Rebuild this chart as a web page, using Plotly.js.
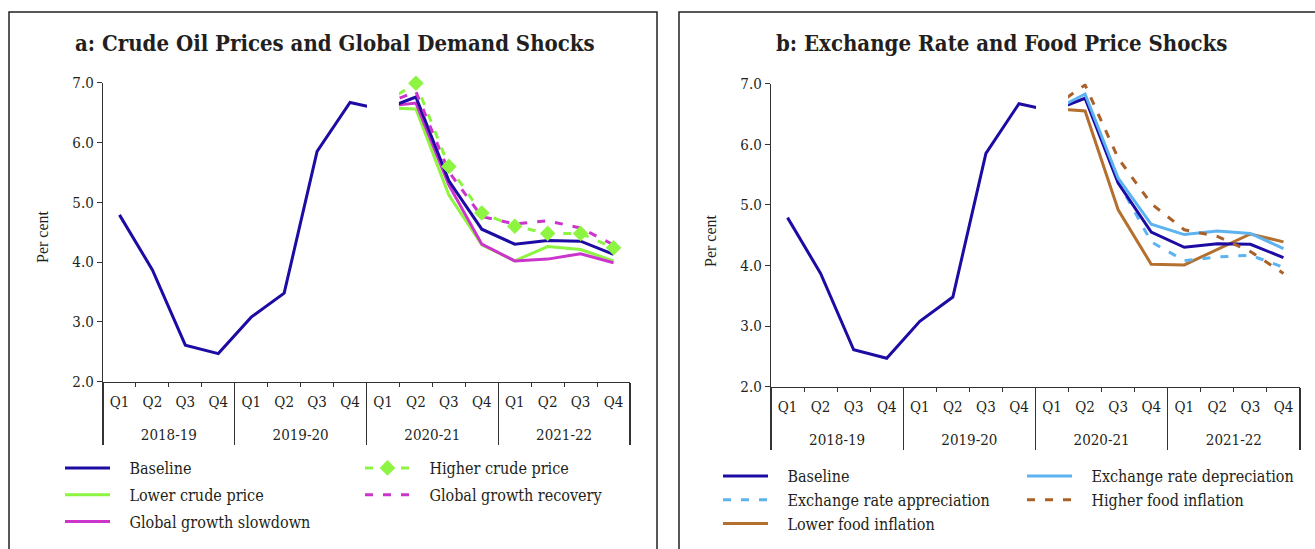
<!DOCTYPE html>
<html>
<head>
<meta charset="utf-8">
<script src="https://cdn.plot.ly/plotly-3.0.1.min.js"></script>
<style>
html,body{margin:0;padding:0;background:#fff;}
#chart{width:1315px;height:549px;}
</style>
</head>
<body>
<div id="chart"></div>
<script>
// ---- Data ----
var years = ['2018-19','2018-19','2018-19','2018-19','2019-20','2019-20','2019-20','2019-20',
             '2020-21','2020-21','2020-21','2020-21','2021-22','2021-22','2021-22','2021-22'];
var quarters = ['Q1','Q2','Q3','Q4','Q1','Q2','Q3','Q4','Q1','Q2','Q3','Q4','Q1','Q2','Q3','Q4'];

var baseline = [4.79, 3.87, 2.61, 2.47, 3.08, 3.48, 5.85, 6.67, 6.55, 6.76, 5.36, 4.55, 4.30, 4.36, 4.35, 4.13];

// projection scenarios, Q1 2020-21 to Q4 2021-22
var higherCrude    = [6.65, 6.99, 5.60, 4.82, 4.60, 4.48, 4.48, 4.24];
var lowerCrude     = [6.58, 6.56, 5.12, 4.29, 4.02, 4.26, 4.21, 4.02];
var growthSlowdown = [6.60, 6.66, 5.29, 4.30, 4.02, 4.05, 4.14, 3.99];
var growthRecovery = [6.63, 6.85, 5.51, 4.76, 4.64, 4.69, 4.57, 4.29];

var exDepreciation = [6.55, 6.83, 5.44, 4.68, 4.51, 4.57, 4.53, 4.28];
var exAppreciation = [6.54, 6.78, 5.38, 4.39, 4.08, 4.14, 4.17, 3.97];
var higherFood     = [6.60, 6.98, 5.77, 5.02, 4.59, 4.48, 4.23, 3.87];
var lowerFood      = [6.59, 6.55, 4.92, 4.02, 4.01, 4.27, 4.52, 4.39];

var titleA = 'a: Crude Oil Prices and Global Demand Shocks';
var titleB = 'b: Exchange Rate and Food Price Shocks';

// ---- Build ----
var W = 1315, H = 549;
// inner labels get an empty second line so the year row sits lower, as in the original
var quarterLabels = quarters.map(function (q) { return q + '<br> '; });
var xCats = [years, quarterLabels];
var histPad = years.slice(0, 8).map(function () { return null; });
function proj(arr) { return histPad.concat(arr); }

var C = {
  base: '#1d0ca3', green: '#8df542', pink: '#cc35cc',
  lblue: '#5cb3f0', brown: '#b4702f', dbrown: '#aa6129'
};
var dashPat = '8px,10px';
var LPAD = '\u2002\u2002';

function tr(name, y, xa, ya, color, dash, legend, rank, markers) {
  var t = {
    type: 'scatter', mode: markers ? 'lines+markers' : 'lines', name: LPAD + name,
    x: xCats, y: y, xaxis: xa, yaxis: ya, connectgaps: false,
    line: {color: color, width: 3, dash: dash || 'solid'},
    legend: legend, legendrank: rank, legendgroup: name + xa,
    hoverinfo: 'skip'
  };
  if (markers) {
    t.marker = {symbol: 'diamond', size: 12, color: color};
    t.cliponaxis = false;
  }
  return t;
}

var data = [
  // panel a
  tr('Lower crude price', proj(lowerCrude), 'x', 'y', C.green, 'solid', 'legend', 2),
  tr('Global growth slowdown', proj(growthSlowdown), 'x', 'y', C.pink, 'solid', 'legend', 3),
  tr('Baseline', baseline, 'x', 'y', C.base, 'solid', 'legend', 1),
  tr('Global growth recovery', proj(growthRecovery), 'x', 'y', C.pink, dashPat, 'legend2', 2),
  tr('Higher crude price', proj(higherCrude), 'x', 'y', C.green, dashPat, 'legend2', 1, true),
  // panel b
  tr('Lower food inflation', proj(lowerFood), 'x2', 'y2', C.brown, 'solid', 'legend3', 3),
  tr('Exchange rate appreciation', proj(exAppreciation), 'x2', 'y2', C.lblue, dashPat, 'legend3', 2),
  tr('Baseline', baseline, 'x2', 'y2', C.base, 'solid', 'legend3', 1),
  tr('Exchange rate depreciation', proj(exDepreciation), 'x2', 'y2', C.lblue, 'solid', 'legend4', 1),
  tr('Higher food inflation', proj(higherFood), 'x2', 'y2', C.dbrown, dashPat, 'legend4', 2)
];

var FAM = 'DejaVu Serif Condensed, DejaVu Serif, Liberation Serif, serif';
var txtFont = {family: FAM, size: 16, color: '#231f20'};
var tickFont = {family: FAM, size: 15, color: '#231f20'};

function xax(d0, d1, anchor) {
  return {
    type: 'multicategory', domain: [d0 / W, d1 / W], anchor: anchor,
    autorange: false, range: [-0.5, quarters.length - 0.5],
    showline: true, linecolor: '#333', linewidth: 1.2, mirror: false,
    ticks: 'outside', ticklen: 4, tickcolor: '#333', tickwidth: 1,
    showdividers: true, dividercolor: '#333', dividerwidth: 1.2,
    tickfont: tickFont, showgrid: false, zeroline: false, fixedrange: true,
    automargin: false, ticklabelstandoff: 6
  };
}
function yax(top, bottom, anchor) {
  return {
    domain: [1 - bottom / H, 1 - top / H], anchor: anchor, range: [2, 7],
    tick0: 2, dtick: 1, tickformat: '.1f',
    showline: true, linecolor: '#333', linewidth: 1.2,
    ticks: 'outside', ticklen: 5, tickcolor: '#333',
    tickfont: tickFont, showgrid: false, zeroline: false, fixedrange: true,
    automargin: false
  };
}

function legendAt(px, py, gap) {
  return {
    x: px / W, y: 1 - py / H, xanchor: 'left', yanchor: 'top',
    orientation: 'v', bgcolor: 'rgba(0,0,0,0)', borderwidth: 0,
    font: txtFont, itemwidth: 45, traceorder: 'grouped', tracegroupgap: gap,
    itemclick: false, itemdoubleclick: false
  };
}

var xaA = [103, 630], xaB = [771, 1300];
function slotShape(xr, yref) {
  var w = (xr[1] - xr[0]) / 16;
  return {
    type: 'rect', layer: 'above', xref: 'paper', yref: yref,
    x0: (xr[0] + 8 * w + 0.5) / W, x1: (xr[0] + 9 * w - 0.5) / W,
    y0: 6.0, y1: 7.0, fillcolor: '#ffffff', line: {width: 0}
  };
}

var layout = {
  width: W, height: H, margin: {l: 0, r: 0, t: 0, b: 0},
  paper_bgcolor: '#ffffff', plot_bgcolor: 'rgba(0,0,0,0)',
  font: txtFont, showlegend: true, hovermode: false,
  xaxis: xax(xaA[0], xaA[1], 'y'),
  yaxis: yax(82.7, 381.7, 'x'),
  xaxis2: xax(xaB[0], xaB[1], 'y2'),
  yaxis2: yax(83.7, 386.7, 'x2'),
  legend: legendAt(60, 451, 3),
  legend2: legendAt(360, 451, 3),
  legend3: legendAt(718, 459, 0),
  legend4: legendAt(1022, 459, 0),
  shapes: [
    slotShape(xaA, 'y'), slotShape(xaB, 'y2'),
    {type: 'rect', xref: 'paper', yref: 'paper', x0: 9 / W, x1: 657 / W, y0: 1 - 12 / H, y1: -0.1,
     line: {color: '#222', width: 1.5}, fillcolor: 'rgba(0,0,0,0)', layer: 'below'},
    {type: 'rect', xref: 'paper', yref: 'paper', x0: 679 / W, x1: 1.1, y0: 1 - 12 / H, y1: -0.1,
     line: {color: '#222', width: 1.5}, fillcolor: 'rgba(0,0,0,0)', layer: 'below'}
  ],
  annotations: [
    {text: '<b>' + titleA + '</b>', xref: 'paper', yref: 'paper', x: 335 / W, y: 1 - 43 / H,
     xanchor: 'center', yanchor: 'middle', showarrow: false,
     font: {family: FAM, size: 22, color: '#231f20'}},
    {text: '<b>' + titleB + '</b>', xref: 'paper', yref: 'paper', x: 1001 / W, y: 1 - 43 / H,
     xanchor: 'center', yanchor: 'middle', showarrow: false,
     font: {family: FAM, size: 22, color: '#231f20'}},
    {text: 'Per cent', xref: 'paper', yref: 'paper', x: 42 / W, y: 1 - 237 / H,
     textangle: -90, xanchor: 'center', yanchor: 'middle', showarrow: false,
     font: {family: 'Liberation Serif, serif', size: 16, color: '#231f20'}},
    {text: 'Per cent', xref: 'paper', yref: 'paper', x: 710 / W, y: 1 - 240 / H,
     textangle: -90, xanchor: 'center', yanchor: 'middle', showarrow: false,
     font: {family: 'Liberation Serif, serif', size: 16, color: '#231f20'}}
  ]
};

Plotly.newPlot('chart', data, layout, {staticPlot: true, displayModeBar: false});
</script>
</body>
</html>
